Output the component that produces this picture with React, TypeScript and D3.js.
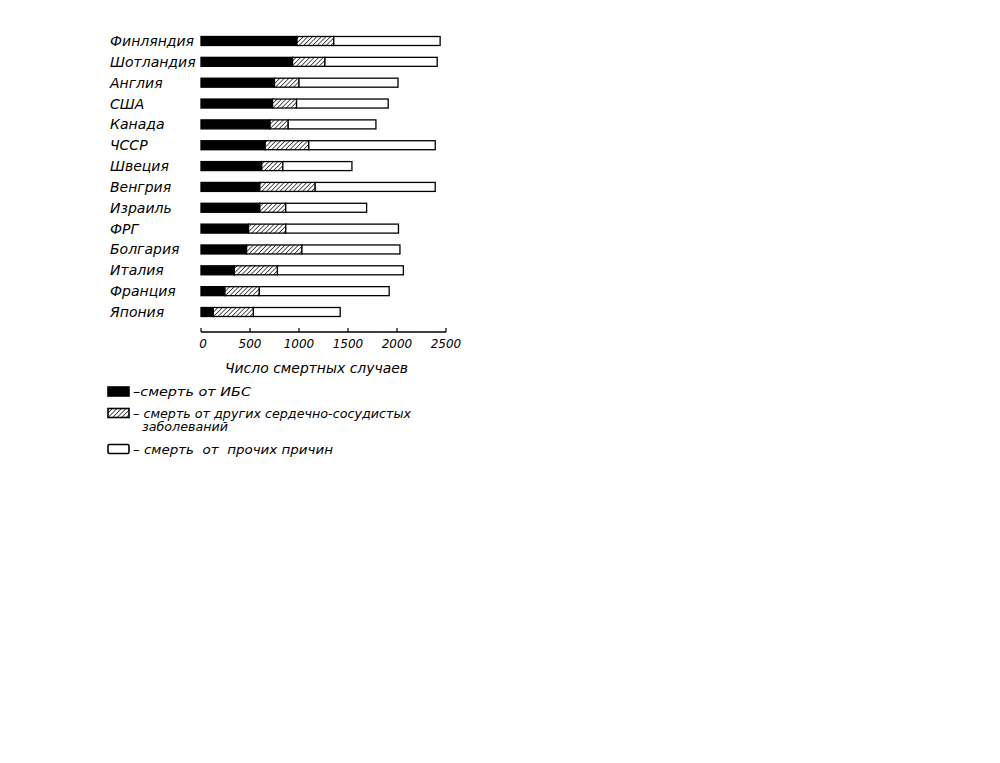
import { useEffect, useRef } from 'react';
import * as d3 from 'd3';

const countries = [
  'Финляндия', 'Шотландия', 'Англия', 'США', 'Канада', 'ЧССР', 'Швеция',
  'Венгрия', 'Израиль', 'ФРГ', 'Болгария', 'Италия', 'Франция', 'Япония',
];
// deaths from ischaemic heart disease
const ihd = [980, 935, 750, 730, 705, 655, 620, 600, 600, 485, 465, 340, 245, 125];
// deaths from other cardiovascular diseases
const otherCvd = [375, 330, 250, 245, 185, 445, 215, 565, 265, 380, 565, 440, 350, 410];
// deaths from all other causes
const otherCauses = [1085, 1145, 1010, 935, 895, 1290, 705, 1225, 825, 1150, 1000, 1285, 1325, 885];

const xTicks = [0, 500, 1000, 1500, 2000, 2500];
const seriesKeys = ['ihd', 'cvd', 'rest'];

const legendItems = [
  { key: 'ihd', lines: ['–смерть от ИБС'], widths: [118] },
  { key: 'cvd', lines: ['– смерть от других сердечно-сосудистых', 'заболеваний'], widths: [278, 86] },
  { key: 'rest', lines: ['– смерть  от  прочих причин'], widths: [200] },
];

const FONT = '"DejaVu Sans", sans-serif';

const App = () => {
  const svgRef = useRef<SVGSVGElement>(null);

  useEffect(() => {
    if (!svgRef.current) return;
    const svg = d3.select(svgRef.current);
    svg.selectAll('*').remove();

    const rows = countries.map((c, i) => ({
      country: c, ihd: ihd[i], cvd: otherCvd[i], rest: otherCauses[i],
    }));

    const x = d3.scaleLinear().domain([0, 2500]).range([201, 446]);
    const y = d3.scalePoint<string>().domain(countries).range([41, 312]);
    const barH = 9;

    // hatch pattern
    const defs = svg.append('defs');
    const pat = defs.append('pattern')
      .attr('id', 'hatch')
      .attr('patternUnits', 'userSpaceOnUse')
      .attr('width', 3.2)
      .attr('height', 3.2)
      .attr('patternTransform', 'rotate(45)');
    pat.append('rect').attr('width', 3.2).attr('height', 3.2).attr('fill', '#fff');
    pat.append('line')
      .attr('x1', 0).attr('y1', 0).attr('x2', 0).attr('y2', 3.2)
      .attr('stroke', '#000').attr('stroke-width', 1.3);

    const fills: Record<string, string> = { ihd: '#000', cvd: 'url(#hatch)', rest: '#fff' };

    const stack = d3.stack<any>().keys(seriesKeys);
    const series = stack(rows);

    series.forEach(s => {
      svg.append('g')
        .selectAll('rect')
        .data(s)
        .enter()
        .append('rect')
        .attr('x', d => x(d[0]))
        .attr('y', d => (y(d.data.country) as number) - barH / 2)
        .attr('width', d => x(d[1]) - x(d[0]))
        .attr('height', barH)
        .attr('fill', fills[s.key])
        .attr('stroke', '#000')
        .attr('stroke-width', 1.3);
    });

    // country labels
    svg.append('g')
      .selectAll('text')
      .data(countries)
      .enter()
      .append('text')
      .attr('x', 110)
      .attr('y', d => (y(d) as number) + 5)
      .text(d => d)
      .style('font-family', FONT)
      .style('font-style', 'italic')
      .style('font-size', '14px')
      .attr('fill', '#000');

    // x axis
    const axisY = 332;
    const ax = svg.append('g');
    ax.append('line')
      .attr('x1', x(0)).attr('x2', x(2500))
      .attr('y1', axisY).attr('y2', axisY)
      .attr('stroke', '#000').attr('stroke-width', 1.4);
    ax.selectAll('.tick')
      .data(xTicks)
      .enter()
      .append('line')
      .attr('x1', d => x(d)).attr('x2', d => x(d))
      .attr('y1', axisY - 4).attr('y2', axisY)
      .attr('stroke', '#000').attr('stroke-width', 1.2);
    ax.selectAll('text')
      .data(xTicks)
      .enter()
      .append('text')
      .attr('x', d => x(d) + (d === 0 ? 2 : 0))
      .attr('y', axisY + 16)
      .attr('text-anchor', 'middle')
      .text(d => d)
      .style('font-family', FONT)
      .style('font-style', 'italic')
      .style('font-size', '12px');

    svg.append('text')
      .attr('x', 225)
      .attr('y', 373)
      .attr('textLength', 183)
      .attr('lengthAdjust', 'spacingAndGlyphs')
      .text('Число смертных случаев')
      .style('font-family', FONT)
      .style('font-style', 'italic')
      .style('font-size', '14px');

    // legend
    const legendY = [391.5, 413, 449];
    legendItems.forEach((item, i) => {
      const cy = legendY[i];
      svg.append('rect')
        .attr('x', 108).attr('y', cy - 4.5)
        .attr('width', 21).attr('height', 9)
        .attr('fill', fills[item.key])
        .attr('stroke', '#000')
        .attr('stroke-width', 1.6)
        .attr('rx', item.key === 'rest' ? 1.5 : 0);
      item.lines.forEach((line, j) => {
        svg.append('text')
          .attr('x', j === 0 ? 133 : 142)
          .attr('y', cy + 4.5 + j * 13.5)
          .attr('textLength', item.widths[j])
          .attr('lengthAdjust', 'spacingAndGlyphs')
          .text(line)
          .style('font-family', FONT)
          .style('font-style', 'italic')
          .style('font-size', '12.5px')
          .style('white-space', 'pre');
      });
    });
  }, []);

  return (
    <svg
      ref={svgRef}
      width={1000}
      height={763}
      style={{ position: 'absolute', left: 0, top: 0, display: 'block', background: '#fff' }}
    />
  );
};

export default App;
